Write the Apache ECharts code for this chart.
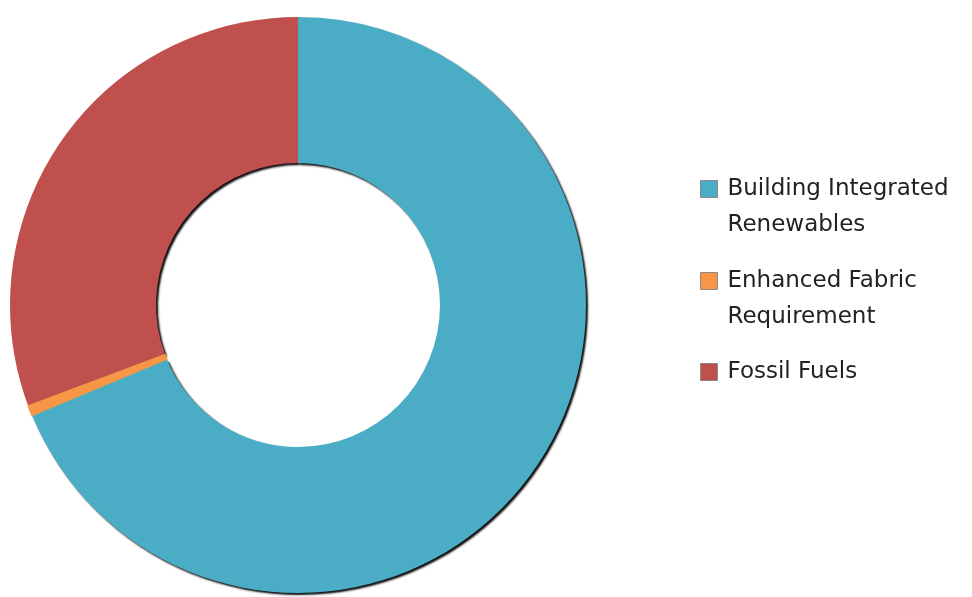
<!DOCTYPE html>
<html>
<head>
<meta charset="utf-8">
<script src="https://cdn.jsdelivr.net/npm/echarts@6/dist/echarts.min.js"></script>
<style>
html,body{margin:0;padding:0;background:#fff;}
#chart{width:972px;height:597px;}
</style>
</head>
<body>
<div id="chart"></div>
<script>
// Data (percent shares)
const categories = ['Building Integrated Renewables', 'Enhanced Fabric Requirement', 'Fossil Fuels'];
const legendLines = {
  'Building Integrated Renewables': ['Building Integrated', 'Renewables'],
  'Enhanced Fabric Requirement': ['Enhanced Fabric', 'Requirement'],
  'Fossil Fuels': ['Fossil Fuels']
};
const values = [68.7, 0.6, 30.7];
const colors = ['#4BACC6', '#F79646', '#C0504D'];

// draw order reversed (counter-clockwise) so shadows fall like the reference
const order = [2, 1, 0];
const pieData = order.map(i => ({
  name: categories[i],
  value: values[i],
  itemStyle: i === 1
    ? { color: colors[i], borderColor: colors[i], borderWidth: 1.5, shadowColor: 'transparent', shadowBlur: 0, shadowOffsetX: 0, shadowOffsetY: 0 }
    : { color: colors[i] }
}));

// an empty leading line keeps the first text line level with the legend square
function legendText(n) {
  const lines = legendLines[n];
  return lines.length > 1 ? '\n' + lines.join('\n') : lines[0];
}

const legendTops = [135, 227, 354];
const legends = categories.map((c, i) => ({
  data: [c],
  orient: 'vertical',
  left: 700,
  top: legendTops[i],
  padding: 0,
  icon: 'rect',
  itemWidth: 17,
  itemHeight: 17,
  itemStyle: { borderColor: '#8a8a8a', borderWidth: 1 },
  selectedMode: false,
  formatter: legendText,
  textStyle: {
    fontFamily: 'DejaVu Sans',
    fontSize: 23,
    color: '#222222',
    lineHeight: 36,
    padding: [0, 0, 0, 5]
  }
}));

const chart = echarts.init(document.getElementById('chart'), null, { renderer: 'canvas' });
chart.setOption({
  animation: false,
  color: colors,
  legend: legends,
  series: [{
    type: 'pie',
    center: [298, 305],
    radius: [142, 288],
    startAngle: 90,
    clockwise: false,
    label: { show: false },
    labelLine: { show: false },
    emphasis: { disabled: true },
    itemStyle: {
      shadowColor: 'rgba(0,0,0,0.95)',
      shadowBlur: 2,
      shadowOffsetX: 2,
      shadowOffsetY: 2
    },
    data: pieData
  }]
});
</script>
</body>
</html>
